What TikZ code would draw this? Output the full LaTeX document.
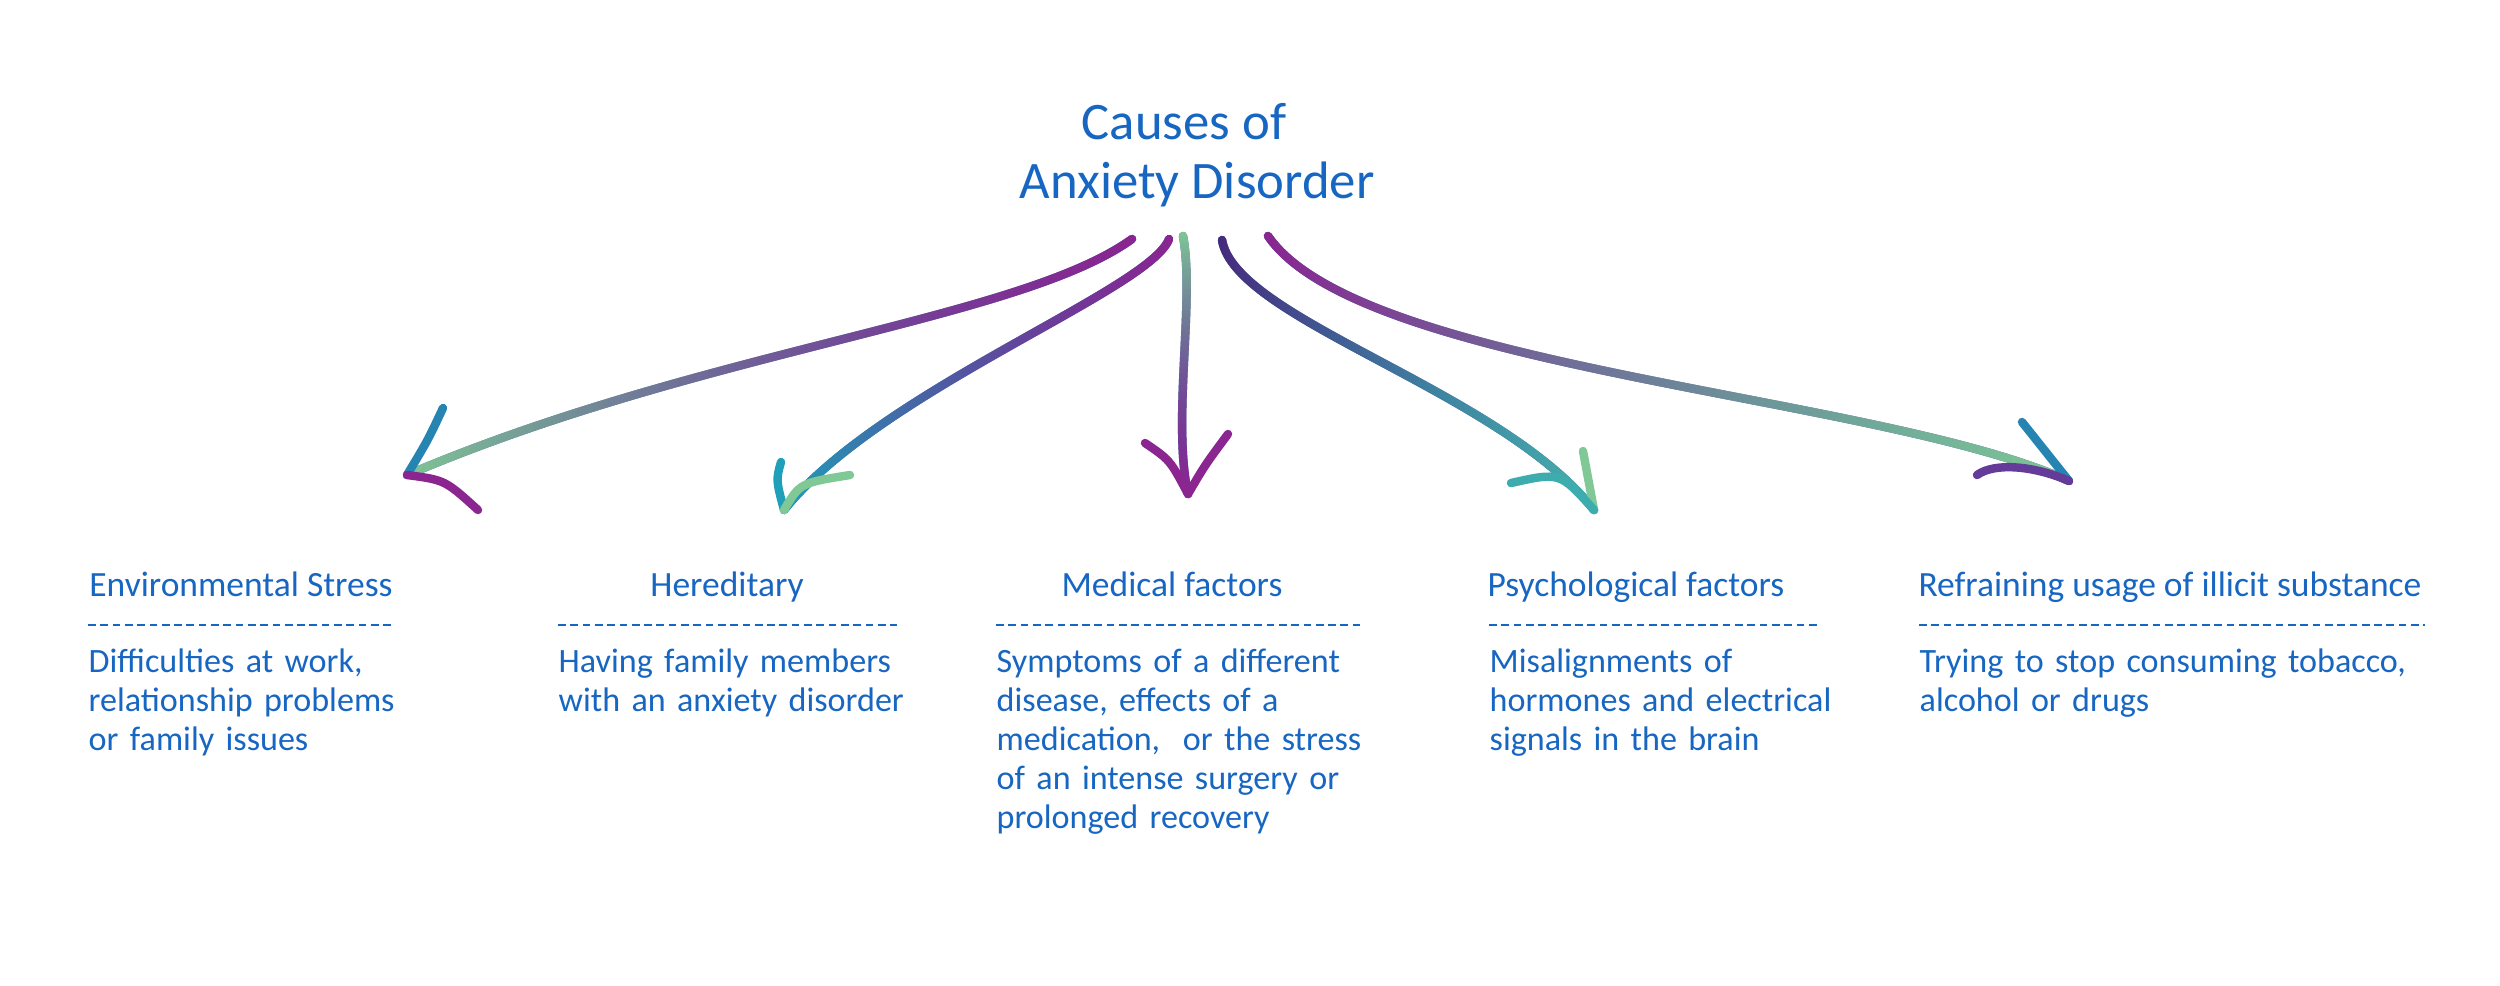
\documentclass[tikz,border=0pt]{standalone}
\usepackage{fontspec}
\setmainfont{Carlito}
\usetikzlibrary{fadings}
\definecolor{inkblue}{RGB}{23,102,194}
\definecolor{glpurple}{RGB}{139,38,145}
\definecolor{gldark}{RGB}{72,42,125}
\definecolor{glblue}{RGB}{44,90,168}
\definecolor{glteal}{RGB}{32,160,184}
\definecolor{glgreen}{RGB}{128,200,150}
\tikzfading[name=fadeL, left color=transparent!0, middle color=transparent!100, right color=transparent!100]
\tikzfading[name=fadeR, left color=transparent!100, middle color=transparent!100, right color=transparent!0]
\tikzfading[name=fadeT, top color=transparent!0, middle color=transparent!100, bottom color=transparent!100]
\tikzfading[name=fadeB, top color=transparent!100, middle color=transparent!100, bottom color=transparent!0]

\begin{document}
\begin{tikzpicture}[x=0.1mm, y=-0.1mm,
  lbl/.style={text=inkblue, inner sep=0pt, font=\fontsize{9.7}{11.1}\selectfont},
  head/.style={lbl, anchor=base, font=\fontsize{10.1}{11.1}\selectfont},
  txt/.style={lbl, anchor=base west, text width=55mm, align=left},
  ttl/.style={text=inkblue, inner sep=0pt, anchor=base, font=\fontsize{15}{16}\selectfont},
  rule/.style={inkblue, line width=0.6pt, dash pattern=on 2.2pt off 1.3pt},
  shaft/.style={line width=2.4pt, line cap=round},
  glit/.style 2 args={shaft, glblue, postaction={draw, #1, path fading=fadeL}, postaction={draw, #2, path fading=fadeR}},
  glitv/.style 2 args={shaft, glblue, postaction={draw, #1, path fading=fadeT}, postaction={draw, #2, path fading=fadeB}}]
\useasboundingbox (0,0) rectangle (2500,985);
% title and the five causes (heading, rule, description)
\node[ttl] (title1) at (1184,139) {Causes of};
\node[ttl] (title2) at (1197,198) {Anxiety Disorder};

\node[head] (env) at (241,596) {Environmental Stress};
\node[head] (her) at (727,596) {Hereditary};
\node[head] (med) at (1172,596) {Medical factors};
\node[head] (psy) at (1636,596) {Psychological factors};
\node[head] (ref) at (2170,596) {Refraining usage of illicit substance};

\draw[rule] (88,625) -- (394,625);
\draw[rule] (558,625) -- (897,625);
\draw[rule] (996,625) -- (1360,625);
\draw[rule] (1489,625) -- (1817,625);
\draw[rule] (1919,625) -- (2425,625);

\node[txt] (envtxt) at (88,672) {Difficulties at work,\\ relationship problems\\ or family issues};
\node[txt] (hertxt) at (558,672) {Having family members\\ with an anxiety disorder};
\node[txt] (medtxt) at (996,672) {Symptoms of a different\\ disease, effects of a\\ medication,~ or the stress\\ of an intense surgery or\\ prolonged recovery};
\node[txt] (psytxt) at (1489,672) {Misalignments of\\ hormones and electrical\\ signals in the brain};
\node[txt] (reftxt) at (1919,672) {Trying to stop consuming tobacco,\\ alcohol or drugs};

% arrows from the title down to each cause
\coordinate (s1) at (1132,239); \coordinate (t1) at (407,475);
\coordinate (s2) at (1169,239); \coordinate (t2) at (784,510);
\coordinate (s3) at (1183,236); \coordinate (t3) at (1188,494);
\coordinate (s4) at (1222,240); \coordinate (t4) at (1594,510);
\coordinate (s5) at (1268,236); \coordinate (t5) at (2069,481);

\draw[glit={glgreen}{glpurple}] (s1) .. controls (1020,320) and (700,350) .. (t1);
\draw[shaft, glteal!60!glblue] (t1) .. controls (428,440) .. (443,408);
\draw[shaft, glpurple] (t1) .. controls (445,480) .. (478,510);

\draw[glit={glteal}{glpurple}] (s2) .. controls (1150,290) and (880,390) .. (t2);
\draw[shaft, glteal] (t2) .. controls (776,480) .. (781,462);
\draw[shaft, glgreen] (t2) .. controls (800,483) .. (850,475);

\draw[glitv={glgreen}{glpurple}] (s3) .. controls (1195,300) and (1172,420) .. (t3);
\draw[shaft, glpurple] (1145,443) .. controls (1170,460) .. (t3);
\draw[shaft, glpurple] (1228,434) .. controls (1205,465) .. (t3);

\draw[glit={gldark}{glteal!60!glgreen}] (s4) .. controls (1235,320) and (1500,390) .. (t4);
\draw[shaft, glgreen] (t4) -- (1583,451);
\draw[shaft, glteal!70!glgreen] (1511,483) .. controls (1560,472) .. (t4);

\draw[glit={glpurple}{glgreen}] (s5) .. controls (1360,370) and (1880,395) .. (t5);
\draw[shaft, glteal!60!glblue] (t5) -- (2022,422);
\draw[shaft, glpurple!60!glblue] (1977,475) .. controls (1995,462) and (2035,466) .. (t5);
\end{tikzpicture}
\end{document}
